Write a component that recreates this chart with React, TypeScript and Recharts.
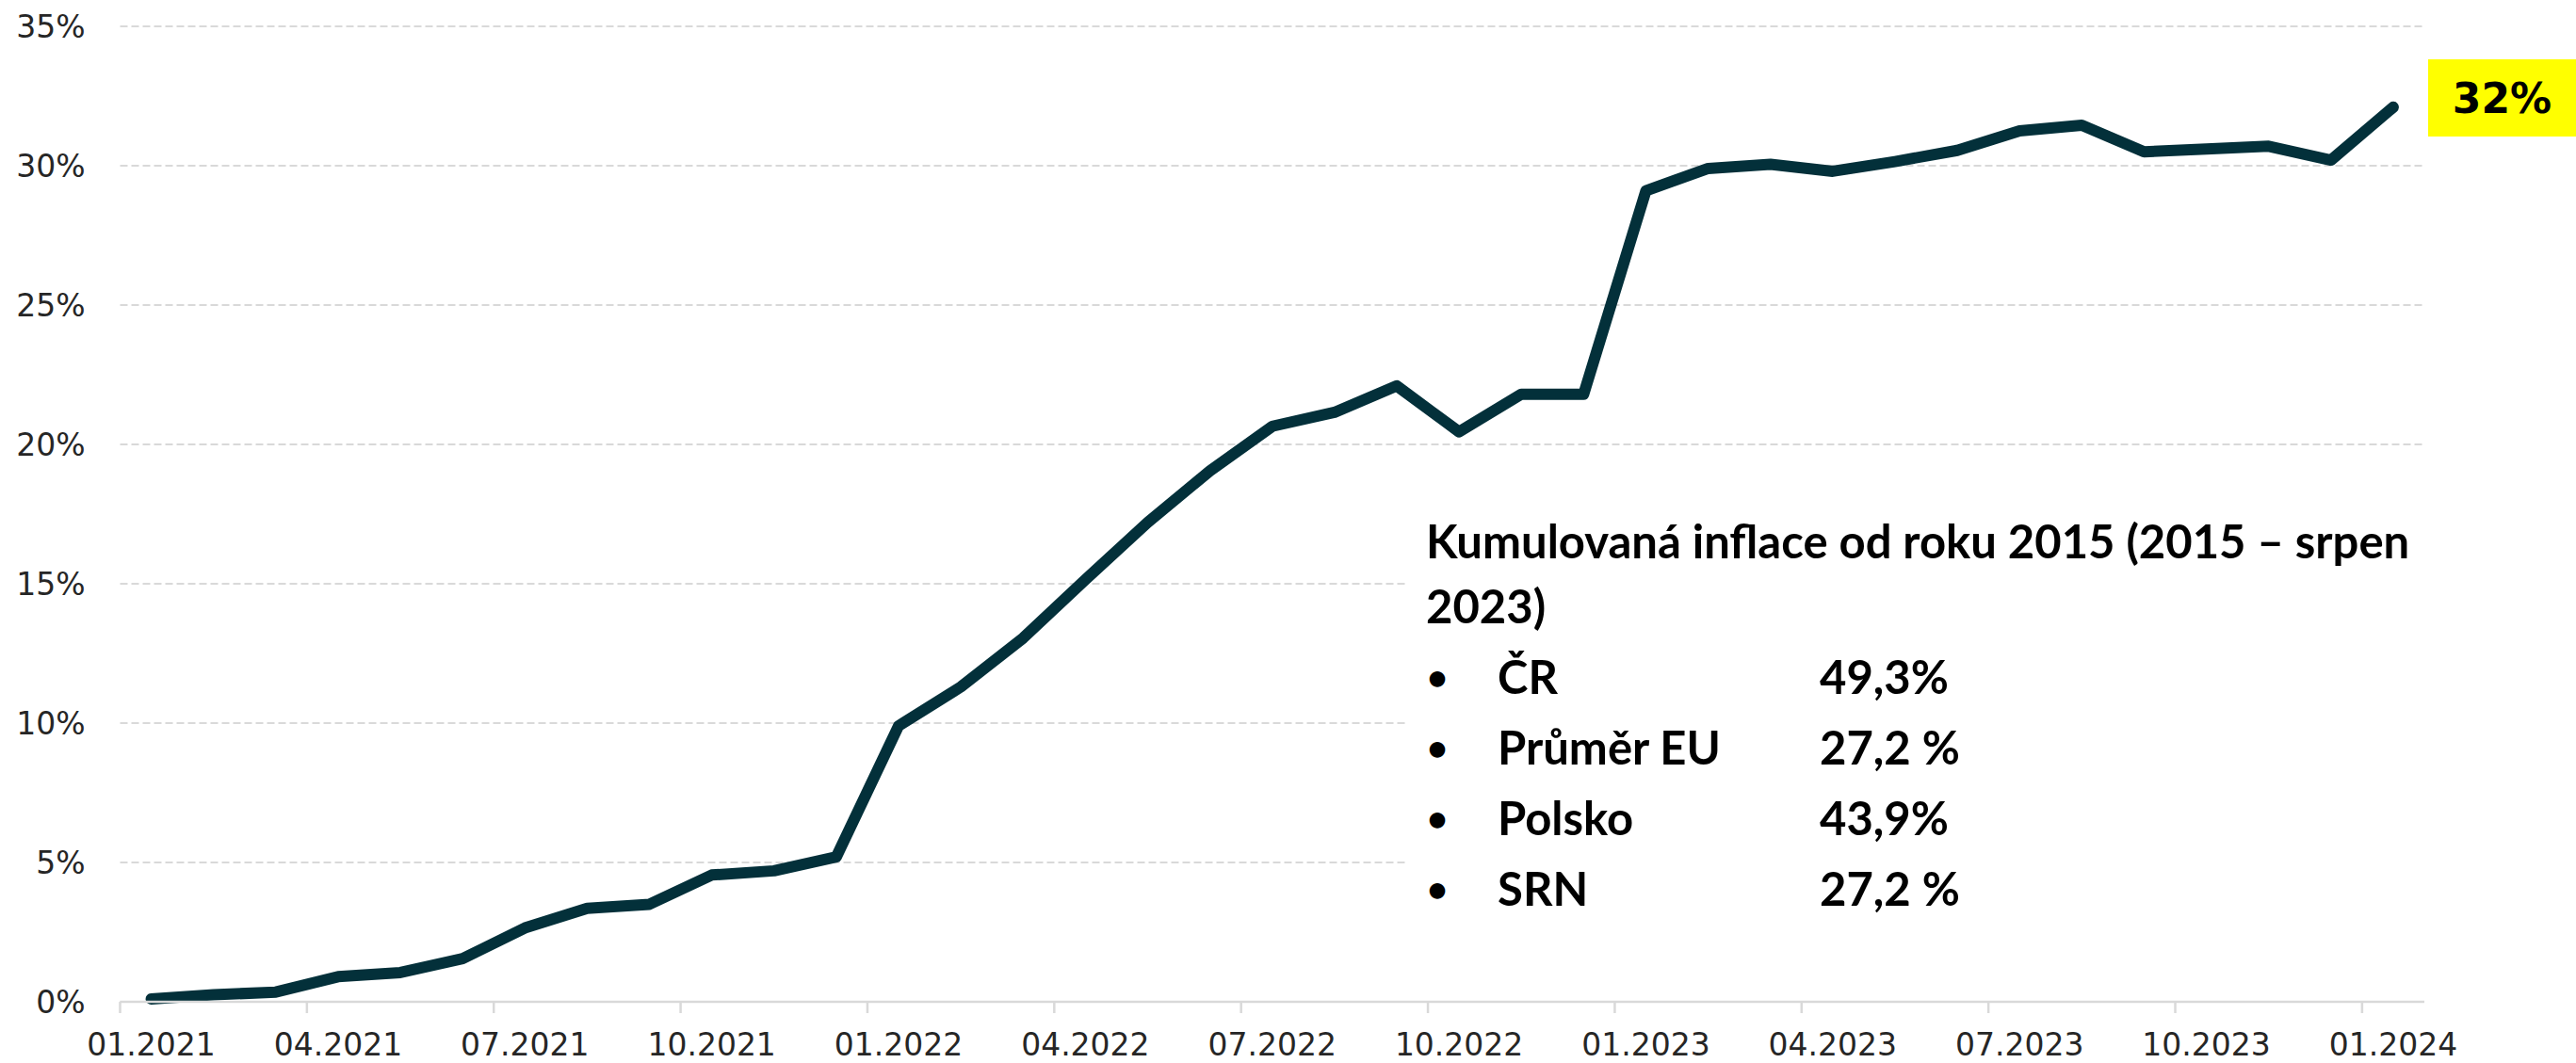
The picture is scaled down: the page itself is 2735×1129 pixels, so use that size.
import React from "react";
import { LineChart, Line, XAxis, YAxis, CartesianGrid } from "recharts";

const months = [
  "01.2021", "02.2021", "03.2021", "04.2021", "05.2021", "06.2021",
  "07.2021", "08.2021", "09.2021", "10.2021", "11.2021", "12.2021",
  "01.2022", "02.2022", "03.2022", "04.2022", "05.2022", "06.2022",
  "07.2022", "08.2022", "09.2022", "10.2022", "11.2022", "12.2022",
  "01.2023", "02.2023", "03.2023", "04.2023", "05.2023", "06.2023",
  "07.2023", "08.2023", "09.2023", "10.2023", "11.2023", "12.2023",
  "01.2024",
];

// kumulovaná inflace od 01.2021, v %
const inflation = [
  0.1, 0.25, 0.35, 0.9, 1.05, 1.55, 2.65, 3.35, 3.5, 4.55, 4.7, 5.2,
  9.9, 11.3, 13.05, 15.15, 17.2, 19.05, 20.65, 21.15, 22.1, 20.45, 21.8, 21.8,
  29.1, 29.9, 30.05, 29.8, 30.15, 30.55, 31.25, 31.45, 30.5, 30.6, 30.7, 30.2,
  32.1,
];

const xTicks = months.filter((_, i) => i % 3 === 0);
const yTicks = [0, 5, 10, 15, 20, 25, 30, 35];

const titleLines = ["Kumulovaná inflace od roku 2015 (2015 – srpen", "2023)"];
const countries = ["ČR", "Průměr EU", "Polsko", "SRN"];
const shares = ["49,3%", "27,2 %", "43,9%", "27,2 %"];
const lastLabel = "32%";

const W = 2735;
const H = 1129;
const LEFT = 127.5;
const RIGHT = 161;
const HALF = (W - LEFT - RIGHT) / months.length / 2;

const tickFont = "'DejaVu Sans', Verdana, sans-serif";
const boxFont = "Lato, 'Open Sans', sans-serif";

const MonthTick = (props: any) => {
  const { x, y, payload } = props;
  return (
    <g>
      <line x1={x - HALF} x2={x - HALF} y1={y} y2={y + 12} stroke="#D9D9D9" strokeWidth={2.5} />
      <text x={x} y={y + 57} textAnchor="middle" fontFamily={tickFont} fontSize={33} fill="#262626">
        {payload.value}
      </text>
    </g>
  );
};

export default function App() {
  const data = months.map((m, i) => ({ month: m, value: inflation[i] }));

  return (
    <div style={{ position: "absolute", left: 0, top: 0, width: W, height: H, background: "#fff" }}>
      <LineChart width={W} height={H} data={data} margin={{ top: 28, right: RIGHT, bottom: 0, left: 0 }}>
        <CartesianGrid vertical={false} stroke="#D9D9D9" strokeWidth={2} strokeDasharray="8 4" />
        <XAxis
          dataKey="month"
          ticks={xTicks}
          interval={0}
          height={65}
          padding={{ left: HALF, right: HALF }}
          axisLine={{ stroke: "#D9D9D9", strokeWidth: 2.5 }}
          tickLine={false}
          tickSize={0}
          tickMargin={0}
          tick={<MonthTick />}
        />
        <YAxis
          domain={[0, 35]}
          ticks={yTicks}
          width={LEFT}
          axisLine={false}
          tickLine={false}
          tickSize={0}
          tickMargin={37}
          tickFormatter={(v: number) => `${v}%`}
          tick={{ fontSize: 33, fontFamily: tickFont, fill: "#262626" }}
        />
        <Line
          type="linear"
          dataKey="value"
          stroke="#03303A"
          strokeWidth={12}
          strokeLinecap="round"
          strokeLinejoin="round"
          dot={false}
          isAnimationActive={false}
        />
      </LineChart>

      <div
        style={{
          position: "absolute",
          left: 1493,
          top: 480,
          width: 1090,
          height: 560,
          background: "#fff",
          fontFamily: boxFont,
          fontWeight: 700,
          fontSize: 49,
          color: "#000",
        }}
      >
        {titleLines.map((t, i) => (
          <div
            key={t}
            style={{ position: "absolute", left: 21, top: 64 + i * 69, lineHeight: "60px", whiteSpace: "nowrap" }}
          >
            {t}
          </div>
        ))}
        {countries.map((c, i) => (
          <React.Fragment key={c}>
            <div style={{ position: "absolute", left: 22, top: 208 + i * 75, lineHeight: "60px", fontSize: 38 }}>•</div>
            <div style={{ position: "absolute", left: 97, top: 208 + i * 75, lineHeight: "60px", whiteSpace: "nowrap" }}>
              {c}
            </div>
            <div style={{ position: "absolute", left: 439, top: 208 + i * 75, lineHeight: "60px", whiteSpace: "nowrap" }}>
              {shares[i]}
            </div>
          </React.Fragment>
        ))}
      </div>

      <div
        style={{
          position: "absolute",
          left: 2578,
          top: 63,
          width: 157,
          height: 82,
          background: "#FFFF00",
          display: "flex",
          alignItems: "center",
          justifyContent: "center",
          fontFamily: tickFont,
          fontWeight: 700,
          fontSize: 44,
          color: "#000",
        }}
      >
        {lastLabel}
      </div>
    </div>
  );
}
